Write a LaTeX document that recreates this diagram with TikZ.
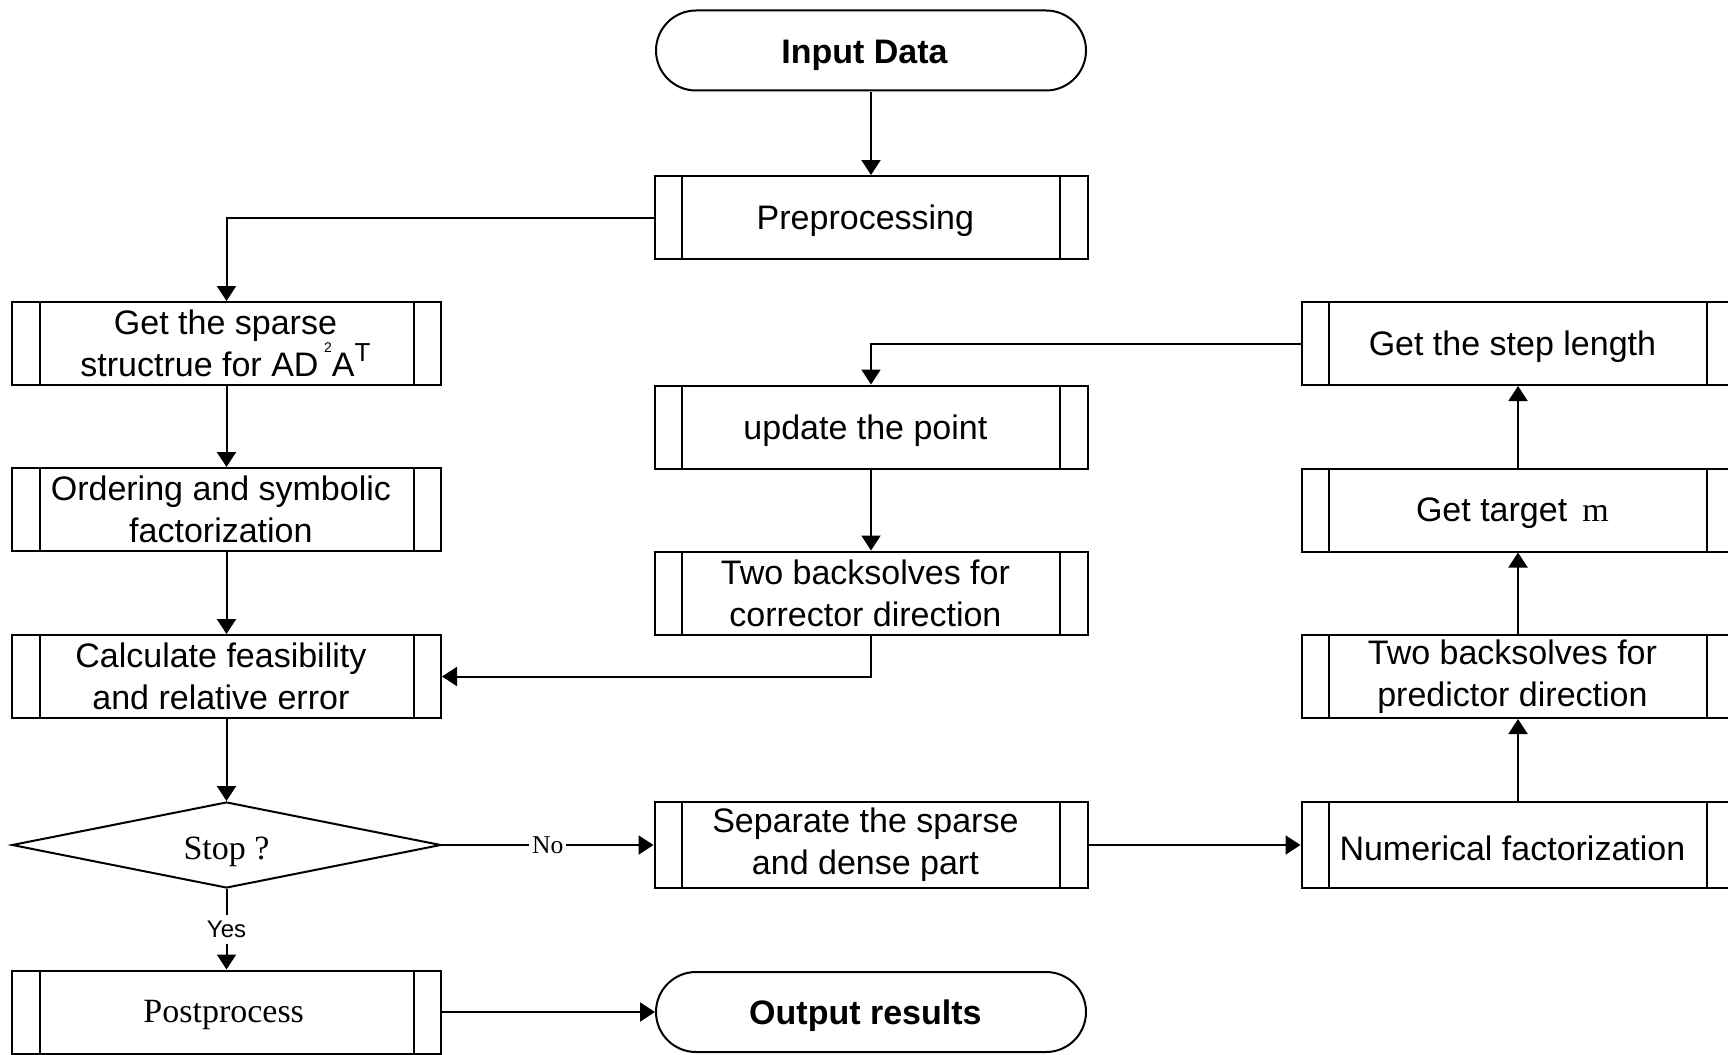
\documentclass[tikz,border=0pt]{standalone}
\usepackage{fontspec}
\setmainfont{Liberation Sans}
\newfontfamily\tnr{Liberation Serif}
\usetikzlibrary{shapes.geometric,shapes.misc,arrows.meta}
\begin{document}
\begin{tikzpicture}[x=0.5pt,y=-0.5pt,
  every node/.style={font=\fontsize{17}{21}\selectfont, inner sep=0pt, align=center},
  pbox/.style={draw, line width=1pt, minimum width=216.5pt, minimum height=41.5pt,
     path picture={\draw[line width=1pt]
       ([xshift=13.75pt]path picture bounding box.north west) -- ([xshift=13.75pt]path picture bounding box.south west)
       ([xshift=-13.75pt]path picture bounding box.north east) -- ([xshift=-13.75pt]path picture bounding box.south east);}},
  lbox/.style={pbox, minimum width=214.5pt},
  term/.style={draw, line width=1pt, rounded rectangle, minimum width=215pt, minimum height=40pt},
  dec/.style={draw, line width=1pt, diamond, minimum width=214.5pt, minimum height=43pt, aspect=5},
  tx/.style={xshift=-2.8pt},
  t1/.style={label={[tx, yshift=-1.7pt]center:#1}},
  t2/.style={label={[tx]center:#1}},
  arr/.style={line width=1pt, -{Triangle[length=7.5pt,width=9.5pt]}},
  lab/.style={font=\fontsize{12}{14}\selectfont, fill=white, inner xsep=1.5pt, inner ysep=3pt}
]
\useasboundingbox (0,0) rectangle (1728,1054);
\clip (0,0) rectangle (1728,1054);

\node[term, label={[tx, xshift=-0.5pt, yshift=-2.2pt, font=\fontsize{17}{21}\selectfont\bfseries]center:Input Data}] (in) at (871,50.5) {};
\node[pbox, t1={Preprocessing}] (pre) at (871,217.5) {};
\node[lbox, label={[xshift=-0.5pt]center:Get the sparse\\structrue for AD\,\raisebox{12pt}[0pt][0pt]{\fontsize{7}{7}\selectfont 2}A\raisebox{7.5pt}[0pt][0pt]{\fontsize{13}{13}\selectfont T}}] (gs) at (226.5,343.5) {};
\node[lbox, t2={Ordering and symbolic\\factorization}] (ord) at (226.5,509.5) {};
\node[lbox, t2={Calculate feasibility\\and relative error}] (calc) at (226.5,676.5) {};
\node[dec, label={[yshift=-3.2pt, font=\fontsize{17}{21}\tnr]center:Stop ?}] (stop) at (226.5,845) {};
\node[lbox, label={[xshift=-1.4pt, yshift=-1.7pt, font=\fontsize{17}{21}\tnr]center:Postprocess}] (post) at (226.5,1012) {};
\node[term, label={[tx, yshift=-1.7pt, font=\fontsize{17}{21}\selectfont\bfseries]center:Output results}] (out) at (871,1012) {};
\node[pbox, t1={update the point}] (upd) at (871,427) {};
\node[pbox, t2={Two backsolves for\\corrector direction}] (cor) at (871,593) {};
\node[pbox, minimum height=43pt, t2={Separate the sparse\\and dense part}] (sep) at (871,845) {};
\node[pbox, t1={Get the step length}] (step) at (1518,343.5) {};
\node[pbox, t1={Get target \,{\tnr m}}] (tgt) at (1518,510) {};
\node[pbox, t2={Two backsolves for\\predictor direction}] (pred) at (1518,676.5) {};
\node[pbox, minimum height=43pt, t1={Numerical factorization}] (num) at (1518,845) {};

\draw[arr] (in) -- (pre);
\draw[arr] (pre.west) -| (gs.north);
\draw[arr] (gs) -- (ord);
\draw[arr] (ord) -- (calc);
\draw[arr] (calc) -- (stop);
\draw[arr] (stop.east) -- node[lab, font=\fontsize{12.8}{14}\tnr] {No} (sep.west);
\draw[arr] (stop.south) -- node[lab] {Yes} (post.north);
\draw[arr] (post.east) -- (out.west);
\draw[arr] (sep.east) -- (num.west);
\draw[arr] (num) -- (pred);
\draw[arr] (pred) -- (tgt);
\draw[arr] (tgt) -- (step);
\draw[arr] (step.west) -| (upd.north);
\draw[arr] (upd) -- (cor);
\draw[arr] (cor.south) |- (calc.east);
\end{tikzpicture}
\end{document}
